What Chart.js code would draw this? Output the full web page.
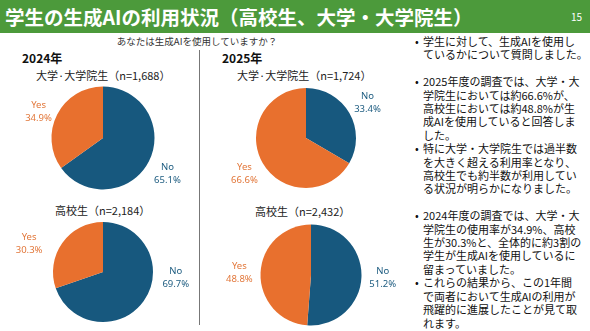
<!DOCTYPE html>
<html><head><meta charset="utf-8">
<script src="https://cdn.jsdelivr.net/npm/chart.js@4"></script>
<style>
html,body{margin:0;padding:0;background:#fff;}
body{width:590px;height:331px;position:relative;overflow:hidden;font-family:"Noto Sans CJK JP","Noto Sans",sans-serif;color:#222;}
#bar{position:absolute;left:0;top:0;width:590px;height:33px;background:#4C9A3B;}
#title{position:absolute;left:5px;top:0;height:34px;line-height:34px;color:#fff;font-weight:bold;font-size:19.5px;white-space:nowrap;}
#page{position:absolute;left:571px;top:0;line-height:34px;color:#fff;font-size:10px;}
#question{position:absolute;left:0;width:394px;top:34px;text-align:center;font-size:9.5px;line-height:14px;color:#333;}
.year{position:absolute;font-weight:bold;font-size:12px;line-height:14px;color:#111;}
.grp{position:absolute;font-size:11px;line-height:14px;color:#222;white-space:nowrap;}
#divider{position:absolute;left:198.5px;top:50px;width:1.5px;height:275px;background:#777;}
canvas{position:absolute;}
#notes{position:absolute;left:415px;top:35px;width:175px;font-size:11px;line-height:13.4px;color:#111;white-space:nowrap;}
#notes p{margin:0;padding-left:8px;position:relative;}
#notes p:before{content:"•";position:absolute;left:0;top:0;}
#notes .gap{height:13.4px;}
</style>
</head><body>
<div id="bar"></div>
<div id="title">学生の生成AIの利用状況（高校生、大学・大学院生）</div>
<div id="page">15</div>
<div id="question">あなたは生成AIを使用していますか？</div>
<div class="year" style="left:22px;top:51px">2024年</div>
<div class="year" style="left:222px;top:51px">2025年</div>
<div class="grp" style="left:36px;top:68px" id="t1"></div>
<div class="grp" style="left:237px;top:68px" id="t2"></div>
<div class="grp" style="left:55px;top:203px" id="t3"></div>
<div class="grp" style="left:255px;top:204px" id="t4"></div>
<div id="divider"></div>
<canvas id="c1" width="190" height="116" style="left:7.5px;top:79.5px"></canvas>
<canvas id="c2" width="190" height="116" style="left:211px;top:80px"></canvas>
<canvas id="c3" width="190" height="116" style="left:8px;top:214px"></canvas>
<canvas id="c4" width="190" height="116" style="left:216px;top:216.5px"></canvas>
<div id="notes">
<p>学生に対して、生成AIを使用し<br>ているかについて質問しました。</p>
<div class="gap"></div>
<p>2025年度の調査では、大学・大<br>学院生においては約66.6%が、<br>高校生においては約48.8%が生<br>成AIを使用していると回答しま<br>した。</p>
<p>特に大学・大学院生では過半数<br>を大きく超える利用率となり、<br>高校生でも約半数が利用してい<br>る状況が明らかになりました。</p>
<div class="gap"></div>
<p>2024年度の調査では、大学・大<br>学院生の使用率が34.9%、高校<br>生が30.3%と、全体的に約3割の<br>学生が生成AIを使用しているに<br>留まっていました。</p>
<p>これらの結果から、この1年間<br>で両者において生成AIの利用が<br>飛躍的に進展したことが見て取<br>れます。</p>
</div>
<script>
// ---- data ----
const categories = ['No', 'Yes'];
const univ2024 = [65.1, 34.9];
const univ2025 = [33.4, 66.6];
const high2024 = [69.7, 30.3];
const high2025 = [51.2, 48.8];
const groupTitles = ['大学·大学院生（n=1,688）', '大学·大学院生（n=1,724）', '高校生（n=2,184）', '高校生（n=2,432）'];

['t1','t2','t3','t4'].forEach((id, i) => { document.getElementById(id).textContent = groupTitles[i]; });

const sliceColors = ['#17587E', '#E8702E'];
const labelColors = ['#1D5C80', '#E2773A'];

const outLabels = {
  id: 'outLabels',
  afterDatasetsDraw(chart, args, opts) {
    const ctx = chart.ctx;
    const meta = chart.getDatasetMeta(0);
    const data = chart.data.datasets[0].data;
    meta.data.forEach((arc, i) => {
      const p = arc.getProps(['x', 'y', 'startAngle', 'endAngle', 'outerRadius'], true);
      let ang = (p.startAngle + p.endAngle) / 2;
      if (opts.angles && opts.angles[i] != null) ang = opts.angles[i] * Math.PI / 180;
      const f = (opts.dists && opts.dists[i]) || 1.42;
      const x = p.x + Math.cos(ang) * p.outerRadius * f;
      const y = p.y + Math.sin(ang) * p.outerRadius * f;
      ctx.save();
      ctx.fillStyle = labelColors[i];
      ctx.font = '9.5px "Noto Sans", sans-serif';
      ctx.textAlign = 'center';
      ctx.textBaseline = 'middle';
      ctx.fillText(chart.data.labels[i], x, y - 6.5);
      ctx.fillText(data[i].toFixed(1) + '%', x, y + 6.5);
      ctx.restore();
    });
  }
};

function makePie(id, values, radius, labelOpts) {
  new Chart(document.getElementById(id), {
    type: 'pie',
    data: { labels: categories, datasets: [{ data: values, backgroundColor: sliceColors, borderWidth: 0 }] },
    options: {
      responsive: false,
      animation: false,
      radius: radius,
      layout: { padding: 0 },
      events: [],
      plugins: { legend: { display: false }, tooltip: { enabled: false }, outLabels: labelOpts || {} }
    },
    plugins: [outLabels]
  });
}

makePie('c1', univ2024, 51.5, { angles: [29, 202], dists: [1.43, 1.35] });
makePie('c2', univ2025, 50);
makePie('c3', high2024, 50, { angles: [4.7, 200.7], dists: [1.46, 1.58] });
makePie('c4', high2025, 50.5);
</script>
</body></html>
